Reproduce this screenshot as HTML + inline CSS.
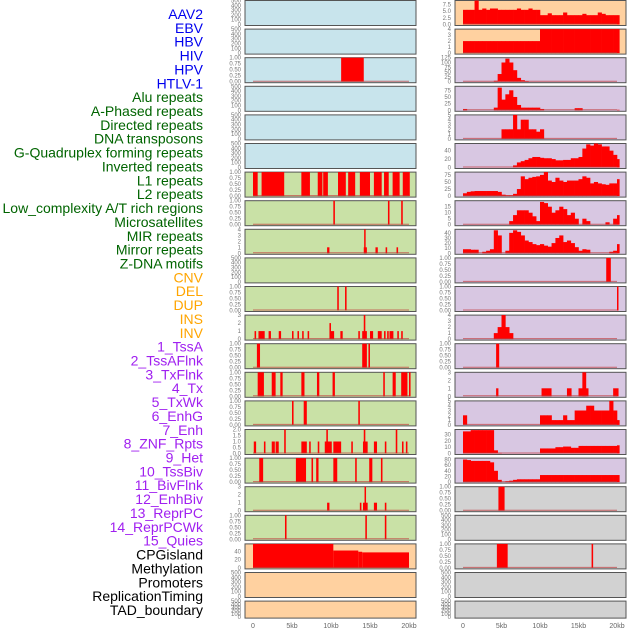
<!DOCTYPE html>
<html><head><meta charset="utf-8">
<style>
body{margin:0;background:#fff;width:630px;height:630px;overflow:hidden;font-family:"Liberation Sans",sans-serif;}
svg{display:block}
</style></head>
<body>
<svg id="chart" width="630" height="630" xmlns="http://www.w3.org/2000/svg"></svg>
<script>
const trackLabels=["AAV2","EBV","HBV","HIV","HPV","HTLV-1","Alu repeats","A-Phased repeats","Directed repeats","DNA transposons","G-Quadruplex forming repeats","Inverted repeats","L1 repeats","L2 repeats","Low_complexity A/T rich regions","Microsatellites","MIR repeats","Mirror repeats","Z-DNA motifs","CNV","DEL","DUP","INS","INV","1_TssA","2_TssAFlnk","3_TxFlnk","4_Tx","5_TxWk","6_EnhG","7_Enh","8_ZNF_Rpts","9_Het","10_TssBiv","11_BivFlnk","12_EnhBiv","13_ReprPC","14_ReprPCWk","15_Quies","CPGisland","Methylation","Promoters","ReplicationTiming","TAD_boundary"];
const labelGroups=[6,13,5,15,5];
const xTickValues=[0,5,10,15,20];
const xTickLabels=["0","5kb","10kb","15kb","20kb"];
// Left column panels: [bg, ymax, ticks, starts, ends, values]
const leftBg=["blue","blue","blue","blue","blue","blue","green","green","green","green","green","green","green","green","green","green","green","green","green","orange","orange","orange"];
const leftYmax=[500,500,1,500,500,500,1,1,4,500,1,3,1,1,1,2,1,3,1,58,500,500];
const leftStarts=[[],[],[11.3],[],[],[],
[0,1.1,6.2,8.3,9.0,10.9,12.2,13.7,15.5,16.8,17.9,19.2],
[10.3,17.3,19.0],
[9.5,14.2,14.25,15.7,17.0,18.4],
[],
[10.8,11.8],
[0.2,0.7,2.0,3.3,5.0,5.7,6.3,7.0,9.8,10.0,11.2,13.5,14.0,14.2,15.0,16.0,16.8,17.2,17.5,18.5,19.0],
[0.5,14.0,14.8],
[0.6,2.4,3.5,6.2,8.2,10.2,16.7,17.9,19.0,20.0],
[5.0,6.5,13.5],
[0.1,1.4,2.4,2.9,4.0,6.2,7.2,8.3,9.2,9.4,10.3,12.6,14.1,14.2,15.5,16.9,18.3,19.1,19.6],
[0.8,5.5,7.5,8.1,10.3,13.1,14.9,16.4],
[9.5,13.7,14.1,14.3,15.5,16.9],
[4.1,14.4,16.9],
[0,10.3,13.5,14.0],
[],[]];
const leftEnds=[[],[],[14.2],[],[],[],
[0.6,4.0,7.3,8.9,9.6,11.9,13.1,15.0,16.5,17.4,18.8,20.1],
[10.5,17.5,19.2],
[9.8,14.6,14.35,16.0,17.2,18.6],
[],
[11.0,12.0],
[0.4,1.5,2.3,3.6,5.2,5.9,6.5,7.2,10.0,10.4,11.5,13.7,14.6,14.4,15.4,16.5,17.0,17.4,18.0,18.7,19.2],
[0.9,14.6,15.0],
[1.4,2.9,3.8,6.6,8.5,10.5,16.9,18.3,19.8,20.2],
[5.2,6.9,13.7],
[0.4,1.6,2.8,3.3,4.2,6.9,7.4,8.5,10.1,9.6,11.3,12.8,14.7,14.4,15.9,17.1,18.5,19.3,19.8],
[1.3,6.8,7.7,8.4,10.8,13.3,15.3,16.6],
[9.8,13.9,14.7,14.45,15.9,17.1],
[4.3,14.6,17.1],
[10.3,13.5,14.0,20.0],
[],[]];
const leftValues=[[],[],[1],[],[],[],
[1,1,1,1,1,1,1,1,1,1,1,1],
[1,1,1],
[1,1,4,1,1,1],
[],
[1,1],
[1,1,1,1,1,1,1,1,2,1,1,1,1,3,1,1,1,1,1,1,1],
[1,1,1],
[1,1,1,1,1,1,1,1,1,1],
[1,1,1],
[1,1,1,1,2,1,1,1,1,2,1,1,1,2,1,1,2,1,1],
[1,1,1,1,1,1,1,1],
[1,1,1,3,1,1],
[1,1,1],
[58,42,39,37.5],
[],[]];
// Right column panels
const rightBg=["orange","orange","purple","purple","purple","purple","purple","purple","purple","purple","purple","purple","purple","purple","purple","purple","purple","gray","gray","gray","gray","gray"];
const rightYmax=[9,4,125,90,5,57,85,20,47,1,1,4,1,3,5,38,85,1,500,1,500,500];
// profiles: values per 0.5kb bin starting at 0 (empty array = use segments)
const rightProfiles=[
[5.5,5.5,5.5,9,5.5,6,5.5,6,6,5.5,5.5,5.5,5.5,5.5,6,5.5,5.5,6,5.5,5.5,3.5,3.5,4.2,3.5,3.5,3.5,4.5,3.5,3.5,3.5,3.5,4,3.5,3.5,3.5,4.5,4,3.5,3.5,3.5,3.5],
[2,2,2,2,2,2,2,2,2,2,2,2,2,2,2,2,2,2,2,2,4,4,4,4,4,4,4,4,4,4,4,4,4,4,4,4,4,4,4,4,4],
[0,0,0,0,0,0,0,0,5,40,100,120,100,60,20,8,3,0,0,0,0,0,0,0,0,0,0,0,0,0,0,0,0,0,0,0,0,0,0,0,0],
[5,0,0,0,0,0,0,0,10,85,40,60,75,50,20,10,10,10,10,10,5,0,0,0,0,0,0,0,0,8,8,0,0,0,0,0,0,0,0,0,2],
[0,0,0,0,0,0,0,0,0,0,2,2,2,5,2,4,4,2,2,1.5,2,0,0,0,0,0,0,0,0,0,0,0,0,0,0,0,0,0,0,0,0],
[0,0,0,0,0,0,0,0,0,0,0,0,0,5,12,15,18,22,25,25,23,22,22,20,17,17,18,18,22,22,25,45,55,52,57,55,50,50,40,30,20],
[10,15,17,18,18,18,18,18,18,15,5,3,3,8,25,70,60,65,68,70,75,85,55,50,65,55,50,55,55,55,60,70,65,45,50,45,42,40,45,45,60],
[0,0,0,0,0,0,0,0,0,0,0,0,3,8,12,12,12,10,7,3,19,18,15,10,12,15,13,8,10,5,0,5,3,0,0,0,0,2,0,5,8],
[8,8,7,7,0,3,5,8,45,35,0,5,40,45,42,35,25,22,18,16,18,15,13,20,30,35,22,25,20,12,5,8,7,0,0,0,0,0,3,5,18],
[],[],
[0,0,0,0,0,0,0,0,1,2,4,2,1,0,0,0,0,0,0,0,0,0,0,0,0,0,0,0,0,0,0,0,0,0,0,0,0,0,0,0,0],
[],[],
[2,0,0,0,0,0,0,0,0,0,0,0,0,0,0,0,0,0,0,0,2,2,2,1,1,1,2,1,1,3,3,3,4,4,3,3,3,3,5,3,1],
[35,35,37,37,37,37,37,37,5,1,0,0,0,0,0,0,0,0,0,0,8,8,8,8,10,10,11,11,9,9,12,12,12,12,12,12,12,12,12,12,13],
[80,78,75,75,75,75,75,70,40,8,0,3,5,8,10,10,10,10,10,10,25,25,25,25,25,25,25,25,25,25,25,25,25,25,25,25,25,25,25,25,25],
[],[],[],[],[]];
const rightStarts=[[],[],[],[],[],[],[],[],[],[18.6],[20.0],[],[4.3],[4.3,10.2,13.5,15.0,15.5,19.5],[],[],[],[4.6],[],[4.4,16.7],[],[]];
const rightEnds=[[],[],[],[],[],[],[],[],[],[19.2],[20.1],[],[4.7],[4.6,11.5,14.1,16.3,16.0,20.2],[],[],[],[5.4],[],[5.8,16.9],[],[]];
const rightValues=[[],[],[],[],[],[],[],[],[],[1],[1],[],[1],[1,1,1,1,3,1],[],[],[],[1],[],[1,1],[],[]];

const NS="http://www.w3.org/2000/svg";
const svg=document.getElementById("chart");
function mk(tag,attrs,parent){const e=document.createElementNS(NS,tag);for(const k in attrs)e.setAttribute(k,attrs[k]);(parent||svg).appendChild(e);return e;}
const BG={blue:"#c8e4ec",green:"#c9e1a6",orange:"#ffd1a0",purple:"#d8c7e2",gray:"#d2d2d2"};
const PITCH=28.6, PH=25;
function ticksFor(m){
 if(m===500)return [0,100,200,300,400,500];
 if(m===1)return [0,0.25,0.5,0.75,1];
 if(m===2)return [0,0.5,1,1.5,2];
 if(m===9)return [0,2.5,5,7.5];
 if(m===125)return [0,25,50,75,100,125];
 if(m===90||m===85&&false)return [0,25,50,75];
 if(m===57||m===58)return [0,20,40];
 if(m===20)return [0,5,10,15];
 if(m===47)return [0,10,20,30,40];
 if(m===38)return [0,10,20,30];
 const t=[];for(let i=0;i<=m;i++)t.push(i);return t;
}
function fmt(v,m){if(m===1||m===2&&false)return v.toFixed(2);if(m===2)return v.toFixed(1);if(m===9)return v.toFixed(1);return String(v);}
function drawPanel(col,row,bg,ymax,prof,starts,ends,vals,tickOverride){
 const x0=col===0?245:455, w=171, x00=col===0?253:463, sc=col===0?7.8:7.7;
 const top=row*PITCH+0.5, h=row===21?17:PH;
 const g=mk("g",{});
 
 
 mk("rect",{x:x0,y:top,width:w,height:h,fill:BG[bg],stroke:"#555",'stroke-width':1},g);
 const ys=v=>top+h-1-(v/ymax)*(h-1);
 const xs=kb=>x00+kb*sc;
 let ticks=tickOverride||ticksFor(ymax);
 if(ymax===85&&col===1&&row===16)ticks=[0,20,40,60,80];
 else if(ymax===85)ticks=[0,25,50,75];
 ticks.forEach(t=>{const tx=mk("text",{x:x0-4,y:ys(t)+2,'font-size':"6",fill:"#777",'text-anchor':"end"},g);tx.textContent=fmt(t,ymax);
  });
 const has=(prof&&prof.length)||starts.length;
 if(!has)return;
 if(prof&&prof.length){
  prof.forEach((v,i)=>{if(v<=0)return;const a=xs(i*0.5),b=xs(Math.min(i*0.5+0.5,20.3));
   const r=mk("rect",{x:a,y:ys(v),width:b-a+0.3,height:ys(0)-ys(v),fill:"#ff0000"},g);
   });
 }
 starts.forEach((s,i)=>{const a=xs(s),b=xs(ends[i]);const v=vals[i];
  const r=mk("rect",{x:a,y:ys(v),width:Math.max(b-a,1.5),height:ys(0)-ys(v),fill:"#ff0000"},g);
  });
 mk("line",{x1:xs(0),x2:xs(20),y1:ys(0)-0.5,y2:ys(0)-0.5,stroke:"#c0383b",'stroke-width':1,opacity:0.7},g);
}
for(let r=0;r<22;r++){
 drawPanel(0,r,leftBg[r],leftYmax[r],null,leftStarts[r],leftEnds[r],leftValues[r]);
 drawPanel(1,r,rightBg[r],rightYmax[r],rightProfiles[r],rightStarts[r],rightEnds[r],rightValues[r]);
}
// labels
const colors=["#0000ee","#006400","#ffa500","#a020f0","#000000"];
let idx=0;
labelGroups.forEach((n,gi)=>{for(let k=0;k<n;k++){const i=idx++;
 const t=mk("text",{x:203,y:15+i*13.86+4,'font-size':"14",fill:colors[gi],'text-anchor':"end"});
 t.textContent=trackLabels[i];
 }});
// x ticks
[[253,7.8],[463,7.7]].forEach(([o,s])=>{xTickValues.forEach((v,i)=>{
 const t=mk("text",{x:o+v*s,y:628,'font-size':"7",fill:"#666",'text-anchor':"middle"});
 t.textContent=xTickLabels[i];});});
</script>
</body></html>
